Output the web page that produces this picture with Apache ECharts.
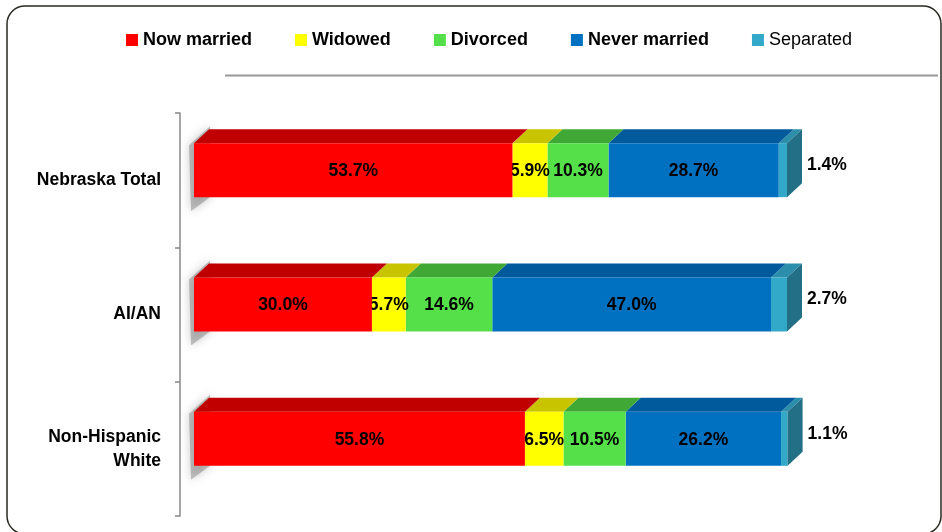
<!DOCTYPE html>
<html>
<head>
    <meta charset="utf-8">
    <title>Marital status</title>
    <style>
        html, body { margin:0; padding:0; background:#fff; }
        #main { width:942px; height:532px; }
    </style>
</head>
<body>
<div id="main"></div>
</body>
<script src="https://cdn.jsdelivr.net/npm/echarts@6/dist/echarts.min.js" type="text/javascript"></script>
<script type="text/javascript">

var categories=['Nebraska Total','AI/AN','Non-Hispanic\nWhite'];
var seriesNames=['Now married','Widowed','Divorced','Never married','Separated'];
var nowMarried=[53.7,30.0,55.8];
var widowed=[5.9,5.7,6.5];
var divorced=[10.3,14.6,10.5];
var neverMarried=[28.7,47.0,26.2];
var separated=[1.4,2.7,1.1];

var values=[nowMarried,widowed,divorced,neverMarried,separated];
var frontColors=['#ff0000','#ffff00','#55e04a','#0070c0','#33a9c9'];
var topColors=['#c00000','#c8c400','#40a834','#005a9c','#2b8fab'];
var sideColor='#236f86';
var FONT='"Liberation Sans", Arial, sans-serif';

var DX=15, DY=14, BAR_H=54, SHIFT=-10;

var main=document.getElementById('main');
var myChart=echarts.init(main);

// cumulative starts
var starts=[];
for(var c=0;c<categories.length;c++){
    var acc=0;
    for(var s=0;s<values.length;s++){
        if(!starts[s]) starts[s]=[];
        starts[s][c]=acc;
        acc+=values[s][c];
    }
}

function makeRender(si){
    var last=(si==values.length-1);
    return function(params,api){
        var cat=api.value(0);
        var p0=api.coord([api.value(1),cat]);
        var p1=api.coord([api.value(2),cat]);
        var x0=p0[0], x1=p1[0];
        var yT=p0[1]+SHIFT-BAR_H/2, yB=yT+BAR_H;
        var kids=[];
        if(si==0){
            kids.push({type:'polygon',shape:{points:[[x0-5,yT+2],[x0+DX+1,yT-DY-3],[x0+DX+1,yB],[x0-3,yB+14]]},
                style:{fill:'rgba(110,110,110,0.4)',shadowBlur:10,shadowColor:'rgba(90,90,90,0.8)'}});
        }
        kids.push({type:'polygon',shape:{points:[[x0,yT],[x0+DX,yT-DY],[x1+DX,yT-DY],[x1,yT]]},
            style:{fill:topColors[si]}});
        kids.push({type:'rect',shape:{x:x0,y:yT,width:x1-x0,height:BAR_H},
            style:{fill:frontColors[si]}});
        if(last){
            kids.push({type:'polygon',shape:{points:[[x1,yT],[x1+DX,yT-DY],[x1+DX,yB-DY],[x1,yB]]},
                style:{fill:sideColor}});
            kids.push({type:'text',x:x1+DX+5,y:yT+BAR_H/2-5,
                style:{text:api.value(3).toFixed(1)+'%',fill:'#000',font:'bold 17.5px '+FONT,
                    align:'left',verticalAlign:'middle'}});
        }else{
            kids.push({type:'text',x:(x0+x1)/2,y:yT+BAR_H/2+1,
                style:{text:api.value(3).toFixed(1)+'%',fill:'#000',font:'bold 17.5px '+FONT,
                    align:'center',verticalAlign:'middle'}});
        }
        return {type:'group',children:kids};
    };
}

var series=[];
for(var s=0;s<values.length;s++){
    var data=[];
    for(var c=0;c<categories.length;c++)
        data.push([c,starts[s][c],starts[s][c]+values[s][c],values[s][c]]);
    series.push({
        name:seriesNames[s],
        type:'custom',
        renderItem:makeRender(s),
        itemStyle:{color:frontColors[s]},
        encode:{x:[1,2],y:0},
        data:data,
        z:10-s
    });
}

var legendData=[];
for(var s=0;s<seriesNames.length;s++){
    legendData.push({name:seriesNames[s],icon:'rect',
        textStyle:{fontWeight:s<4?'bold':'normal'}});
}

var option={
    animation:false,
    textStyle:{fontFamily:FONT},
    graphic:[
        {type:'rect',shape:{x:7,y:6,width:934,height:528,r:18},
            style:{fill:'none',stroke:'#2a2a22',lineWidth:1.5},z:-1},
        {type:'line',shape:{x1:225,y1:75.5,x2:938,y2:75.5},
            style:{stroke:'#999',lineWidth:2},z:-1}
    ],
    legend:{
        left:121,
        top:26,
        itemWidth:12,
        itemHeight:12,
        itemGap:43,
        data:legendData,
        textStyle:{fontSize:18,color:'#000',fontFamily:FONT}
    },
    grid:{left:194,right:155,top:113,bottom:16},
    xAxis:{type:'value',min:0,max:100,show:false},
    yAxis:{
        type:'category',
        inverse:true,
        data:categories,
        offset:14,
        axisLine:{show:true,onZero:false,lineStyle:{color:'#888',width:1.5}},
        axisTick:{show:true,length:5,lineStyle:{color:'#888',width:1.5}},
        axisLabel:{fontSize:17.5,fontWeight:'bold',color:'#000',margin:19,
            align:'right',lineHeight:24,fontFamily:FONT},
        splitLine:{show:false}
    },
    series:series
};

myChart.setOption(option);
</script>
</html>
